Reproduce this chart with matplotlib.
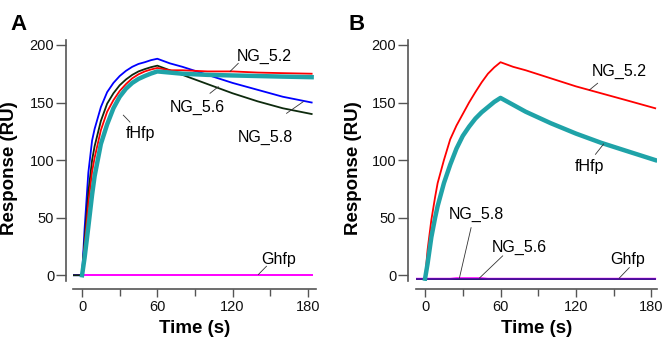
"""
Sensorgramas SPR (paneles A y B) con etiquetas y líneas guía.
"""
import matplotlib
matplotlib.use('Agg')
import matplotlib.pyplot as plt
from matplotlib.ticker import MultipleLocator

plt.rcParams['font.family'] = ['Liberation Sans', 'DejaVu Sans']

# =============================================================================
# DATOS
# =============================================================================
T = [-7, 0, 2, 5, 8, 10, 15, 20, 25, 30, 35, 40, 45, 50, 55, 60, 70, 80, 100, 120, 140, 160, 183]
T_POS = T[1:]   # curvas que empiezan en t = 0

# Panel A
A_NG58 = [0, 0, 40, 89, 117, 127, 146, 159, 167, 173, 177.5, 181, 183.5, 185, 186.8, 188,
          184, 181, 174, 167, 161, 155, 150]
A_NG56 = [0, 0, 30, 72, 100, 112, 134, 149, 158, 165, 170, 174, 177, 179, 180.7, 182,
          178, 174, 166, 158, 151, 145, 140]
A_NG52 = [0, 25, 62, 90, 102, 126, 142, 152, 160, 166, 171, 174.5, 177, 178.7, 180,
          178, 178, 177, 177, 176, 175.5, 175]
A_FHFP = [0, 15, 42, 70, 86, 114, 131, 145, 155, 162, 167, 170.5, 173, 175.2, 177,
          176, 175, 174, 173.5, 173, 172.5, 172]
A_GHFP = [0, 0, 0, 0, 0, 0, 0, 0, 0, 0, 0, 0, 0, 0, 0, 0, 0, 0, 0, 0, 0, 0, 0]

# Panel B
B_NG52 = [-3, 22, 48, 68, 80, 100, 118, 130, 140, 150, 159, 167.5, 175, 180.5, 185,
          181, 178, 171, 164, 158, 152, 145]
B_FHFP = [-3, 10, 33, 50, 60, 80, 96, 110, 121, 129, 136, 141.5, 146, 150.5, 154,
          148, 142, 132, 123, 115, 108, 100]
B_NG58 = [-3, -3, -3, -3, -3, -3, -3, -3, -3, -3, -3, -3, -3, -3, -3, -3, -3, -3, -3, -3, -3, -3, -3]
B_NG56 = [-3, -3, -3, -3, -3, -3, -3, -3, -3, -3, -3, -3, -3, -3, -3, -3, -3, -3, -3, -3, -3, -3, -3]
B_GHFP = [-3, -3, -3, -3, -3, -3, -3, -3, -2.5, -2.5, -2.5, -2.5, -2.5, -3, -3, -3, -3, -3, -3,
          -3, -3, -3, -3]

# Etiquetas: (texto, posición del texto, inicio guía, fin guía)
ETIQ_A = [
    ('NG_5.2', (145, 190), (124.5, 184), (118, 177)),
    ('NG_5.6', (91.6, 146), (102, 158), (108.6, 163.7)),
    ('NG_5.8', (145.8, 120), (163, 140.6), (176.3, 150.7)),
    ('fHfp', (46.2, 123), (38.2, 133), (32.9, 139)),
    ('Ghfp', (156.4, 13.6), (147, 7.8), (140.5, 0.6)),
]
ETIQ_B = [
    ('NG_5.2', (154.4, 176.7), (137.2, 166.7), (130.6, 160.8)),
    ('fHfp', (131, 94.3), (135.5, 105), (142, 114)),
    ('NG_5.8', (40.5, 53), (36.6, 41.3), (27.3, -2.5)),
    ('NG_5.6', (75, 24), (61.7, 16.8), (43.2, -2.5)),
    ('Ghfp', (161, 13.9), (162.4, 6.6), (154.4, -2.5)),
]

ROJO, AZUL, NEGRO, TEAL, MAGENTA = '#ff0000', '#0000ff', '#0d2a0d', '#1fa3a8', '#ff00ff'
SPINE = '#555555'


# =============================================================================
# FUNCIONES
# =============================================================================
def estilo_ejes(ax, letra, xlim, off_y, letra_xy):
    ax.set_xlim(*xlim)
    ax.set_ylim(-5, 204.3)
    for s in ('top', 'right'):
        ax.spines[s].set_visible(False)
    ax.spines['left'].set_position(('outward', off_y))
    ax.spines['bottom'].set_position(('outward', 5.8))
    for s in ('left', 'bottom'):
        ax.spines[s].set_color(SPINE)
        ax.spines[s].set_linewidth(1.2)
    ax.xaxis.set_major_locator(MultipleLocator(60))
    ax.xaxis.set_minor_locator(MultipleLocator(30))
    ax.yaxis.set_major_locator(MultipleLocator(50))
    ax.tick_params(axis='both', which='both', direction='out', color=SPINE,
                   width=1.0, labelsize=10.5, labelcolor='#111111')
    ax.tick_params(axis='x', which='major', length=6, pad=2)
    ax.tick_params(axis='x', which='minor', length=5)
    ax.tick_params(axis='y', which='major', length=7, pad=1.5)
    ax.set_xlabel('Time (s)', fontsize=13.5, fontweight='bold', labelpad=4.5)
    ax.set_ylabel('Response (RU)', fontsize=13.5, fontweight='bold')
    ax.yaxis.set_label_coords(-0.225, 0.47)
    ax.text(letra_xy[0], letra_xy[1], letra, transform=ax.transAxes, fontsize=16,
            fontweight='bold', ha='center', va='center')


def etiquetas(ax, lista):
    for txt, pos, p0, p1 in lista:
        ax.text(pos[0], pos[1], txt, fontsize=11.5, ha='center', va='center')
        ax.plot([p0[0], p1[0]], [p0[1], p1[1]], color='#333333', lw=0.6)


# =============================================================================
# FIGURA
# =============================================================================
fig = plt.figure(figsize=(6.62, 3.42), dpi=100)
ax_a = fig.add_axes([0.1103, 0.1784, 0.3671, 0.7047])
ax_b = fig.add_axes([0.6284, 0.1784, 0.3640, 0.7047])

# Panel A
ax_a.plot(T, A_GHFP, color=MAGENTA, lw=1.4)
ax_a.plot(T, A_NG58, color=AZUL, lw=1.3)
ax_a.plot(T, A_NG56, color=NEGRO, lw=1.3)
ax_a.plot(T_POS, A_NG52, color=ROJO, lw=1.3)
ax_a.plot(T_POS, A_FHFP, color=TEAL, lw=3.2)
estilo_ejes(ax_a, 'A', (-7.2, 186.5), 5.0, (-0.226, 1.064))
etiquetas(ax_a, ETIQ_A)

# Panel B
ax_b.plot(T, B_NG56, color=NEGRO, lw=1.3)
ax_b.plot(T, B_GHFP, color=MAGENTA, lw=1.3)
ax_b.plot(T, B_NG58, color='#2a1090', lw=1.3, alpha=0.85)
ax_b.plot(T_POS, B_NG52, color=ROJO, lw=1.3)
ax_b.plot(T_POS, B_FHFP, color=TEAL, lw=3.2)
estilo_ejes(ax_b, 'B', (-7.2, 184.4), 5.8, (-0.245, 1.066))
etiquetas(ax_b, ETIQ_B)

fig.savefig('out.png', dpi=100)
plt.close(fig)
